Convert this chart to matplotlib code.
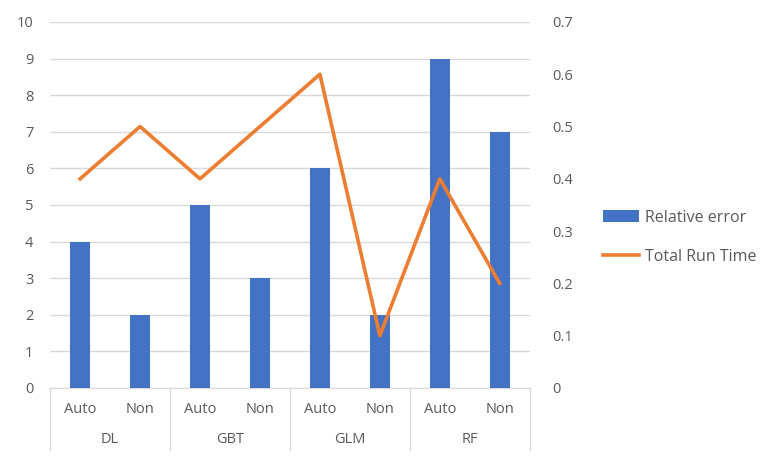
import matplotlib.pyplot as plt
import numpy as np

groups = ['DL', 'GBT', 'GLM', 'RF']
subs = ['Auto', 'Non']
relative_error = [4, 2, 5, 3, 6, 2, 9, 7]
total_run_time = [0.4, 0.5, 0.4, 0.5, 0.6, 0.1, 0.4, 0.2]

plt.rcParams['font.family'] = ['Open Sans', 'DejaVu Sans']
text_color = '#595959'

fig = plt.figure(figsize=(7.6, 4.57), dpi=100)
ax = fig.add_axes([0.066, 0.151, 0.631, 0.801])
ax2 = ax.twinx()

x = np.arange(len(relative_error))
ax.bar(x, relative_error, width=0.34, color='#4472C4', label='Relative error', zorder=3)
ax2.plot(x, total_run_time, color='#ED7D31', lw=2.6, label='Total Run Time', zorder=4)

ax.set_xlim(-0.5, len(x) - 0.5)
ax.set_ylim(0, 10)
ax2.set_ylim(0, 0.7)
ax.set_yticks(range(0, 11))
ax2.set_yticks(np.arange(0, 0.71, 0.1))
ax2.set_yticklabels(['0'] + ['%.1f' % v for v in np.arange(0.1, 0.71, 0.1)])

ax.grid(axis='y', color='#D9D9D9', lw=1, zorder=0)
for a in (ax, ax2):
    for s in a.spines.values():
        s.set_visible(False)
    a.tick_params(length=0, labelsize=10.5, colors=text_color)
ax.tick_params(axis='y', pad=12)
ax2.tick_params(axis='y', pad=16)
ax.spines['bottom'].set_visible(True)
ax.spines['bottom'].set_color('#D9D9D9')

ax.set_xticks(x)
ax.set_xticklabels(subs * len(groups))
ax.tick_params(axis='x', pad=10)

# group labels and separators of the two-level category axis
trans = ax.get_xaxis_transform()
for i in range(len(groups) + 1):
    bx = i * 2 - 0.5
    ax.plot([bx, bx], [0, -0.17], transform=trans, color='#D9D9D9', lw=1, clip_on=False)
for i, g in enumerate(groups):
    ax.text(i * 2 + 0.5, -0.14, g, transform=trans, ha='center', va='center',
            fontsize=10.5, color=text_color)

h1, l1 = ax.get_legend_handles_labels()
h2, l2 = ax2.get_legend_handles_labels()
fig.legend(h1 + h2, l1 + l2, loc='center left', bbox_to_anchor=(0.775, 0.481),
           frameon=False, fontsize=11.5, labelcolor=text_color, handlelength=2.2,
           handletextpad=0.4, labelspacing=1.45)

fig.savefig('out.png', dpi=100)
